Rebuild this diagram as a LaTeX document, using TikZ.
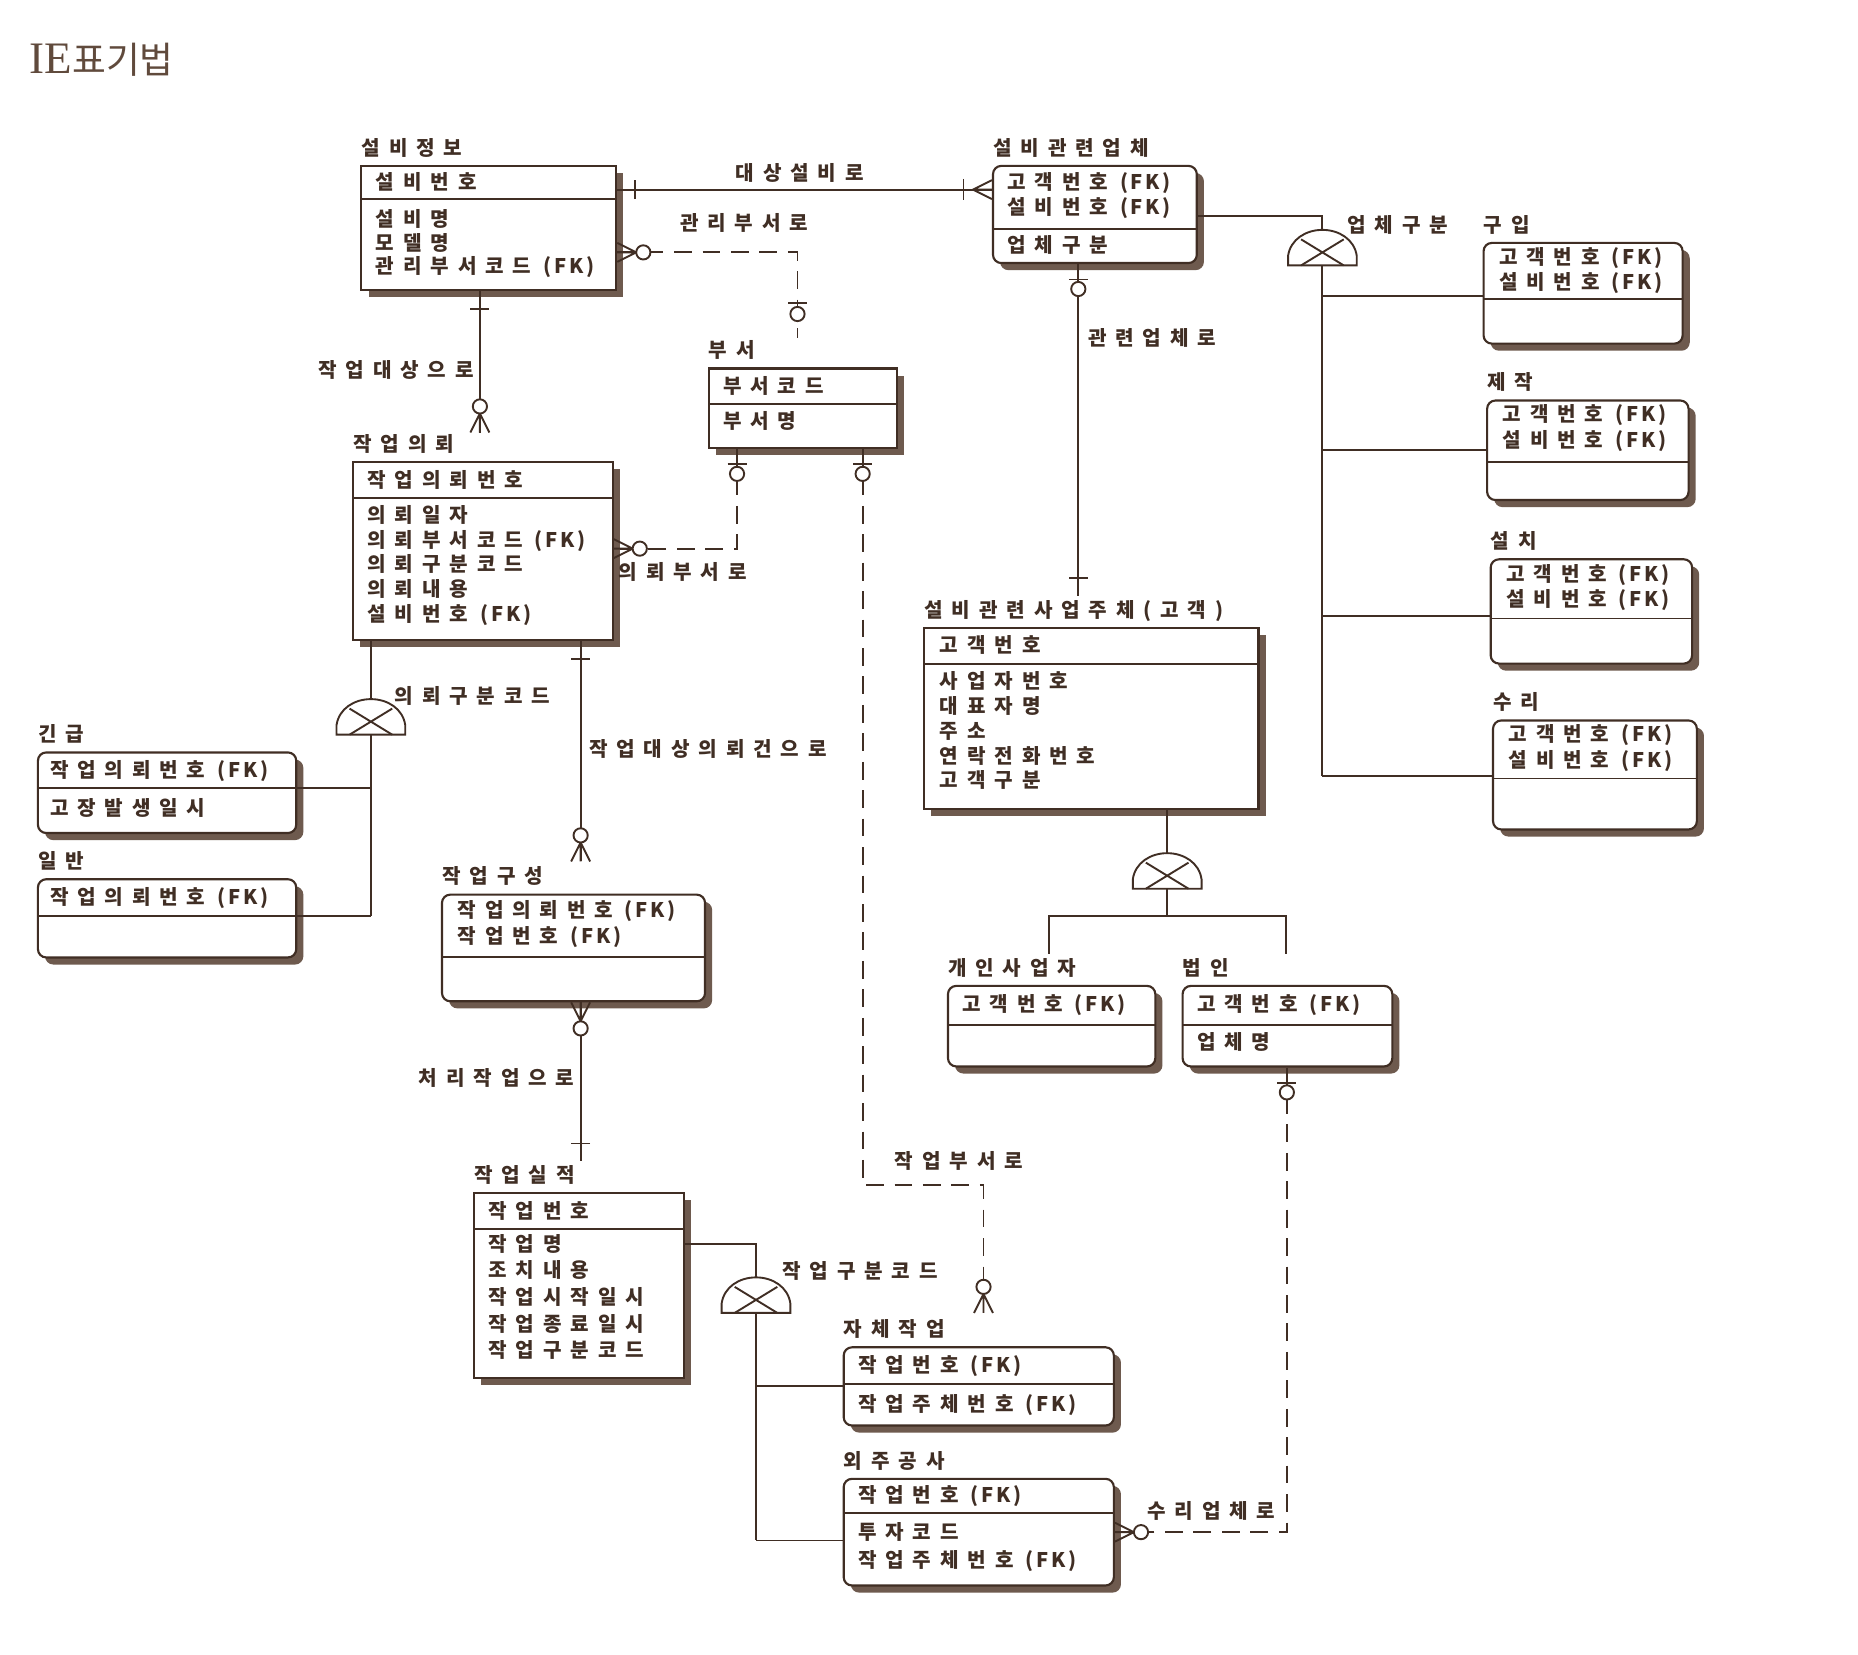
\documentclass[tikz,border=0pt]{standalone}
\usepackage{fontspec}
\setmainfont{Liberation Serif}
\newfontfamily\krfont[LetterSpace=44]{Noto Sans CJK KR}
\newfontfamily\krtag[LetterSpace=14]{Noto Sans CJK KR}
\newfontfamily\krhead{Noto Sans CJK KR}
\usetikzlibrary{fit}

\definecolor{ink}{RGB}{64,46,36}
\definecolor{shade}{RGB}{110,90,78}
\definecolor{headink}{RGB}{96,74,60}

% foreign key tag with the wide gap of the listing
\newcommand\fkx{\hspace{10pt}{\krtag (FK)}}

\tikzset{
  ln/.style={draw=ink, line width=1.6pt},
  dsh/.style={ln, dash pattern=on 15pt off 9pt},
  ent/.style={draw=ink, line width=1.8pt, fill=white, inner sep=0pt},
  sq/.style={},
  rd/.style={rounded corners=7pt},
  shd/.style={fill=shade},
  lbl/.style={text=ink, font=\krfont\bfseries\fontsize{17}{20}\selectfont, inner sep=0pt},
  % relationship ends; the entity lies on the +x side of the origin
  mkone/.pic={\draw[ln] (-15,-8) -- (-15,8);},
  mkzo/.pic={\draw[ln] (-13,-8) -- (-13,8);
              \draw[ln, fill=white] (-21,0) circle (6);},
  mkoz/.pic={\draw[ln] (-29,-8) -- (-29,8);
              \draw[ln, fill=white] (-20,0) circle (6);},
  mkzmany/.pic={\draw[ln] (0,-8) -- (-16,0) -- (0,8) (-16,0) -- (0,0);
                \draw[ln, fill=white] (-22,0) circle (6);},
  mkonemany/.pic={\draw[ln] (0,-8) -- (-16,0) -- (0,8) (-16,0) -- (0,0);
                  \draw[ln] (-24,-9) -- (-24,9);},
  % category symbol, origin at the top centre
  subsym/.pic={\draw[ln, fill=white] (-29,30) -- (-29,22) .. controls (-27,8) and (-14,0) .. (0,0)
                 .. controls (14,0) and (27,8) .. (29,22) -- (29,30) -- cycle;
               \draw[ln] (-18,8) -- (18,30) (18,8) -- (-18,30);},
}

% entity box: name, corner style, x1, y1, x2, y2, divider y, title
\newcommand\erent[8]{%
  \fill[shd,#2] (#3+6,#4+6) rectangle (#5+6,#6+6);
  \node[ent,#2,fit={(#3,#4)(#5,#6)}] (#1) {};
  \draw[ln] (#3,#7) -- (#5,#7);
  \node[lbl,anchor=base west] (#1-title) at (#3,#4-9) {#8};
}
% rows of an entity: name prefix, x, first baseline, step, rows
\newcommand\errows[5]{%
  \foreach \t [count=\i] in {#5} {\node[lbl,anchor=base west] (#1-\i) at (#2,{#3+(\i-1)*#4}) {\t};}
}

\begin{document}
\begin{tikzpicture}[x=1pt,y=-1pt]
\fill[white] (0,0) rectangle (1568,1396);
\useasboundingbox (0,0) rectangle (1568,1396);

\node[anchor=base west, text=headink, inner sep=0pt] (heading) at (25,62)
  {\fontsize{38}{40}\selectfont IE{\krhead\fontsize{31}{34}\selectfont 표기법}};

% ---------- entities ----------
\erent{sbj}{sq}{305}{140}{520}{245}{168}{설비정보}
\errows{sbj-k}{317}{160}{21}{설비번호}
\errows{sbj-a}{317}{191}{20}{설비명,모델명,관리부서코드\fkx}

\erent{sbu}{rd}{838}{140}{1010}{222}{193}{설비관련업체}
\errows{sbu-k}{850}{160}{21}{고객번호\fkx,설비번호\fkx}
\errows{sbu-a}{850}{213}{21}{업체구분}

\erent{buy}{rd}{1252}{205}{1420}{290}{252}{구입}
\errows{buy-k}{1265}{223}{21}{고객번호\fkx,설비번호\fkx}
\erent{mfg}{rd}{1255}{338}{1425}{422}{390}{제작}
\errows{mfg-k}{1268}{356}{22}{고객번호\fkx,설비번호\fkx}
\erent{inst}{rd}{1258}{472}{1428}{560}{522}{설치}
\errows{inst-k}{1271}{491}{21}{고객번호\fkx,설비번호\fkx}
\erent{rep}{rd}{1260}{608}{1432}{700}{657}{수리}
\errows{rep-k}{1273}{626}{22}{고객번호\fkx,설비번호\fkx}

\erent{dept}{sq}{598}{311}{757}{378}{341}{부서}
\errows{dept-k}{610}{332}{21}{부서코드}
\errows{dept-a}{610}{362}{21}{부서명}

\erent{req}{sq}{298}{390}{517}{540}{420}{작업의뢰}
\errows{req-k}{310}{411}{21}{작업의뢰번호}
\errows{req-a}{310}{441}{20.8}{의뢰일자,의뢰부서코드\fkx,의뢰구분코드,의뢰내용,설비번호\fkx}

\erent{urg}{rd}{32}{635}{250}{703}{665}{긴급}
\errows{urg-k}{42}{656}{21}{작업의뢰번호\fkx}
\errows{urg-a}{42}{688}{21}{고장발생일시}
\erent{gen}{rd}{32}{742}{250}{808}{773}{일반}
\errows{gen-k}{42}{763}{21}{작업의뢰번호\fkx}

\erent{comp}{rd}{373}{755}{595}{845}{808}{작업구성}
\errows{comp-k}{386}{774}{22}{작업의뢰번호\fkx,작업번호\fkx}

\erent{perf}{sq}{400}{1007}{577}{1163}{1037}{작업실적}
\errows{perf-k}{412}{1028}{21}{작업번호}
\errows{perf-a}{412}{1056}{22.5}{작업명,조치내용,작업시작일시,작업종료일시,작업구분코드}

\erent{selfw}{rd}{712}{1137}{940}{1203}{1168}{자체작업}
\errows{selfw-k}{724}{1158}{21}{작업번호\fkx}
\errows{selfw-a}{724}{1191}{21}{작업주체번호\fkx}
\erent{outs}{rd}{712}{1248}{940}{1338}{1277}{외주공사}
\errows{outs-k}{724}{1268}{21}{작업번호\fkx}
\errows{outs-a}{724}{1299}{24}{투자코드,작업주체번호\fkx}

\erent{cust}{sq}{780}{530}{1062}{683}{560}{설비관련사업주체(고객)}
\errows{cust-k}{793}{551}{21}{고객번호}
\errows{cust-a}{793}{581}{21}{사업자번호,대표자명,주소,연락전화번호,고객구분}

\erent{indv}{rd}{800}{832}{975}{900}{865}{개인사업자}
\errows{indv-k}{812}{854}{21}{고객번호\fkx}
\erent{corp}{rd}{998}{832}{1175}{900}{865}{법인}
\errows{corp-k}{1010}{854}{21}{고객번호\fkx}
\errows{corp-a}{1010}{886}{21}{업체명}

% ---------- category structures ----------
% supplier kind
\coordinate (j1) at (1116,182);
\coordinate (s1) at (1116,194);
\coordinate (s1b) at (1116,224);
\coordinate (s1e) at (1116,655);
\draw[ln] (sbu.east |- j1) -- (j1) -- (s1);
\pic at (s1) {subsym};
\draw[ln] (s1b) -- (s1e);
\coordinate (b1) at (1116,250);
\coordinate (b2) at (1116,380);
\coordinate (b3) at (1116,520);
\draw[ln] (b1) -- (buy.west |- b1);
\draw[ln] (b2) -- (mfg.west |- b2);
\draw[ln] (b3) -- (inst.west |- b3);
\draw[ln] (s1e) -- (rep.west |- s1e);
\node[lbl,anchor=west] (s1-lbl) at (1137,190) {업체구분};

% request kind
\coordinate (s2) at (313,590);
\coordinate (s2b) at (313,620);
\coordinate (s2e) at (313,773);
\coordinate (b4) at (313,665);
\draw[ln] (req.south -| s2) -- (s2);
\pic at (s2) {subsym};
\draw[ln] (s2b) -- (s2e);
\draw[ln] (b4) -- (urg.east |- b4);
\draw[ln] (s2e) -- (gen.east |- s2e);
\node[lbl,anchor=west] (s2-lbl) at (333,587) {의뢰구분코드};

% customer kind
\coordinate (s3) at (985,720);
\coordinate (s3b) at (985,750);
\coordinate (s3j) at (985,773);
\coordinate (s3l) at (885,805);
\coordinate (s3r) at (1085,805);
\draw[ln] (cust.south -| s3) -- (s3);
\pic at (s3) {subsym};
\draw[ln] (s3b) -- (s3j);
\draw[ln] (s3l) -- (s3l |- s3j) -- (s3r |- s3j) -- (s3r);

% work kind
\coordinate (j4) at (638,1050);
\coordinate (s4) at (638,1078);
\coordinate (s4b) at (638,1108);
\coordinate (s4e) at (638,1300);
\coordinate (b5) at (638,1170);
\draw[ln] (perf.east |- j4) -- (j4) -- (s4);
\pic at (s4) {subsym};
\draw[ln] (s4b) -- (s4e);
\draw[ln] (b5) -- (selfw.west |- b5);
\draw[ln] (s4e) -- (outs.west |- s4e);
\node[lbl,anchor=west] (s4-lbl) at (660,1073) {작업구분코드};

% ---------- relationships ----------
% target equipment
\coordinate (r1) at (700,160);
\draw[ln] (sbj.east |- r1) -- (sbu.west |- r1);
\pic[rotate=180] at (sbj.east |- r1) {mkone};
\pic at (sbu.west |- r1) {mkonemany};
\node[lbl] (r1-lbl) at (675,146) {대상설비로};

% managing department
\coordinate (r2a) at (673,213);
\coordinate (r2e) at (673,285);
\draw[dsh] (sbj.east |- r2a) -- (r2a) -- (r2e);
\pic[rotate=180] at (sbj.east |- r2a) {mkzmany};
\pic[rotate=-90] at (r2e) {mkoz};
\node[lbl] (r2-lbl) at (628,188) {관리부서로};

% work target
\coordinate (r3e) at (405,365);
\draw[ln] (sbj.south -| r3e) -- (r3e);
\pic[rotate=90] at (sbj.south -| r3e) {mkone};
\pic[rotate=-90] at (r3e) {mkzmany};
\node[lbl,anchor=east] (r3-lbl) at (400,312) {작업대상으로};

% related supplier
\coordinate (r4e) at (910,503);
\draw[ln] (sbu.south -| r4e) -- (r4e);
\pic[rotate=90] at (sbu.south -| r4e) {mkzo};
\pic[rotate=-90] at (r4e) {mkone};
\node[lbl,anchor=west] (r4-lbl) at (918,285) {관련업체로};

% requesting department
\coordinate (r5a) at (622,463);
\draw[dsh] (dept.south -| r5a) -- (r5a) -- (req.east |- r5a);
\pic[rotate=90] at (dept.south -| r5a) {mkzo};
\pic[rotate=180] at (req.east |- r5a) {mkzmany};
\node[lbl,anchor=west] (r5-lbl) at (522,483) {의뢰부서로};

% working department
\coordinate (r6a) at (728,1000);
\coordinate (r6b) at (830,1000);
\coordinate (r6e) at (830,1108);
\draw[dsh] (dept.south -| r6a) -- (r6a) -- (r6b) -- (r6e);
\pic[rotate=90] at (dept.south -| r6a) {mkzo};
\pic[rotate=-90] at (r6e) {mkzmany};
\node[lbl,anchor=west] (r6-lbl) at (755,980) {작업부서로};

% target request
\coordinate (r7e) at (490,727);
\draw[ln] (req.south -| r7e) -- (r7e);
\pic[rotate=90] at (req.south -| r7e) {mkone};
\pic[rotate=-90] at (r7e) {mkzmany};
\node[lbl,anchor=west] (r7-lbl) at (497,632) {작업대상의뢰건으로};

% processing work
\coordinate (r8e) at (490,980);
\draw[ln] (comp.south -| r8e) -- (r8e);
\pic[rotate=90] at (comp.south -| r8e) {mkzmany};
\pic[rotate=-90] at (r8e) {mkone};
\node[lbl,anchor=east] (r8-lbl) at (485,910) {처리작업으로};

% repair supplier
\coordinate (r9a) at (1086,1293);
\draw[dsh] (corp.south -| r9a) -- (r9a) -- (outs.east |- r9a);
\pic[rotate=90] at (corp.south -| r9a) {mkzo};
\pic[rotate=180] at (outs.east |- r9a) {mkzmany};
\node[lbl,anchor=west] (r9-lbl) at (968,1275) {수리업체로};

\end{tikzpicture}
\end{document}
